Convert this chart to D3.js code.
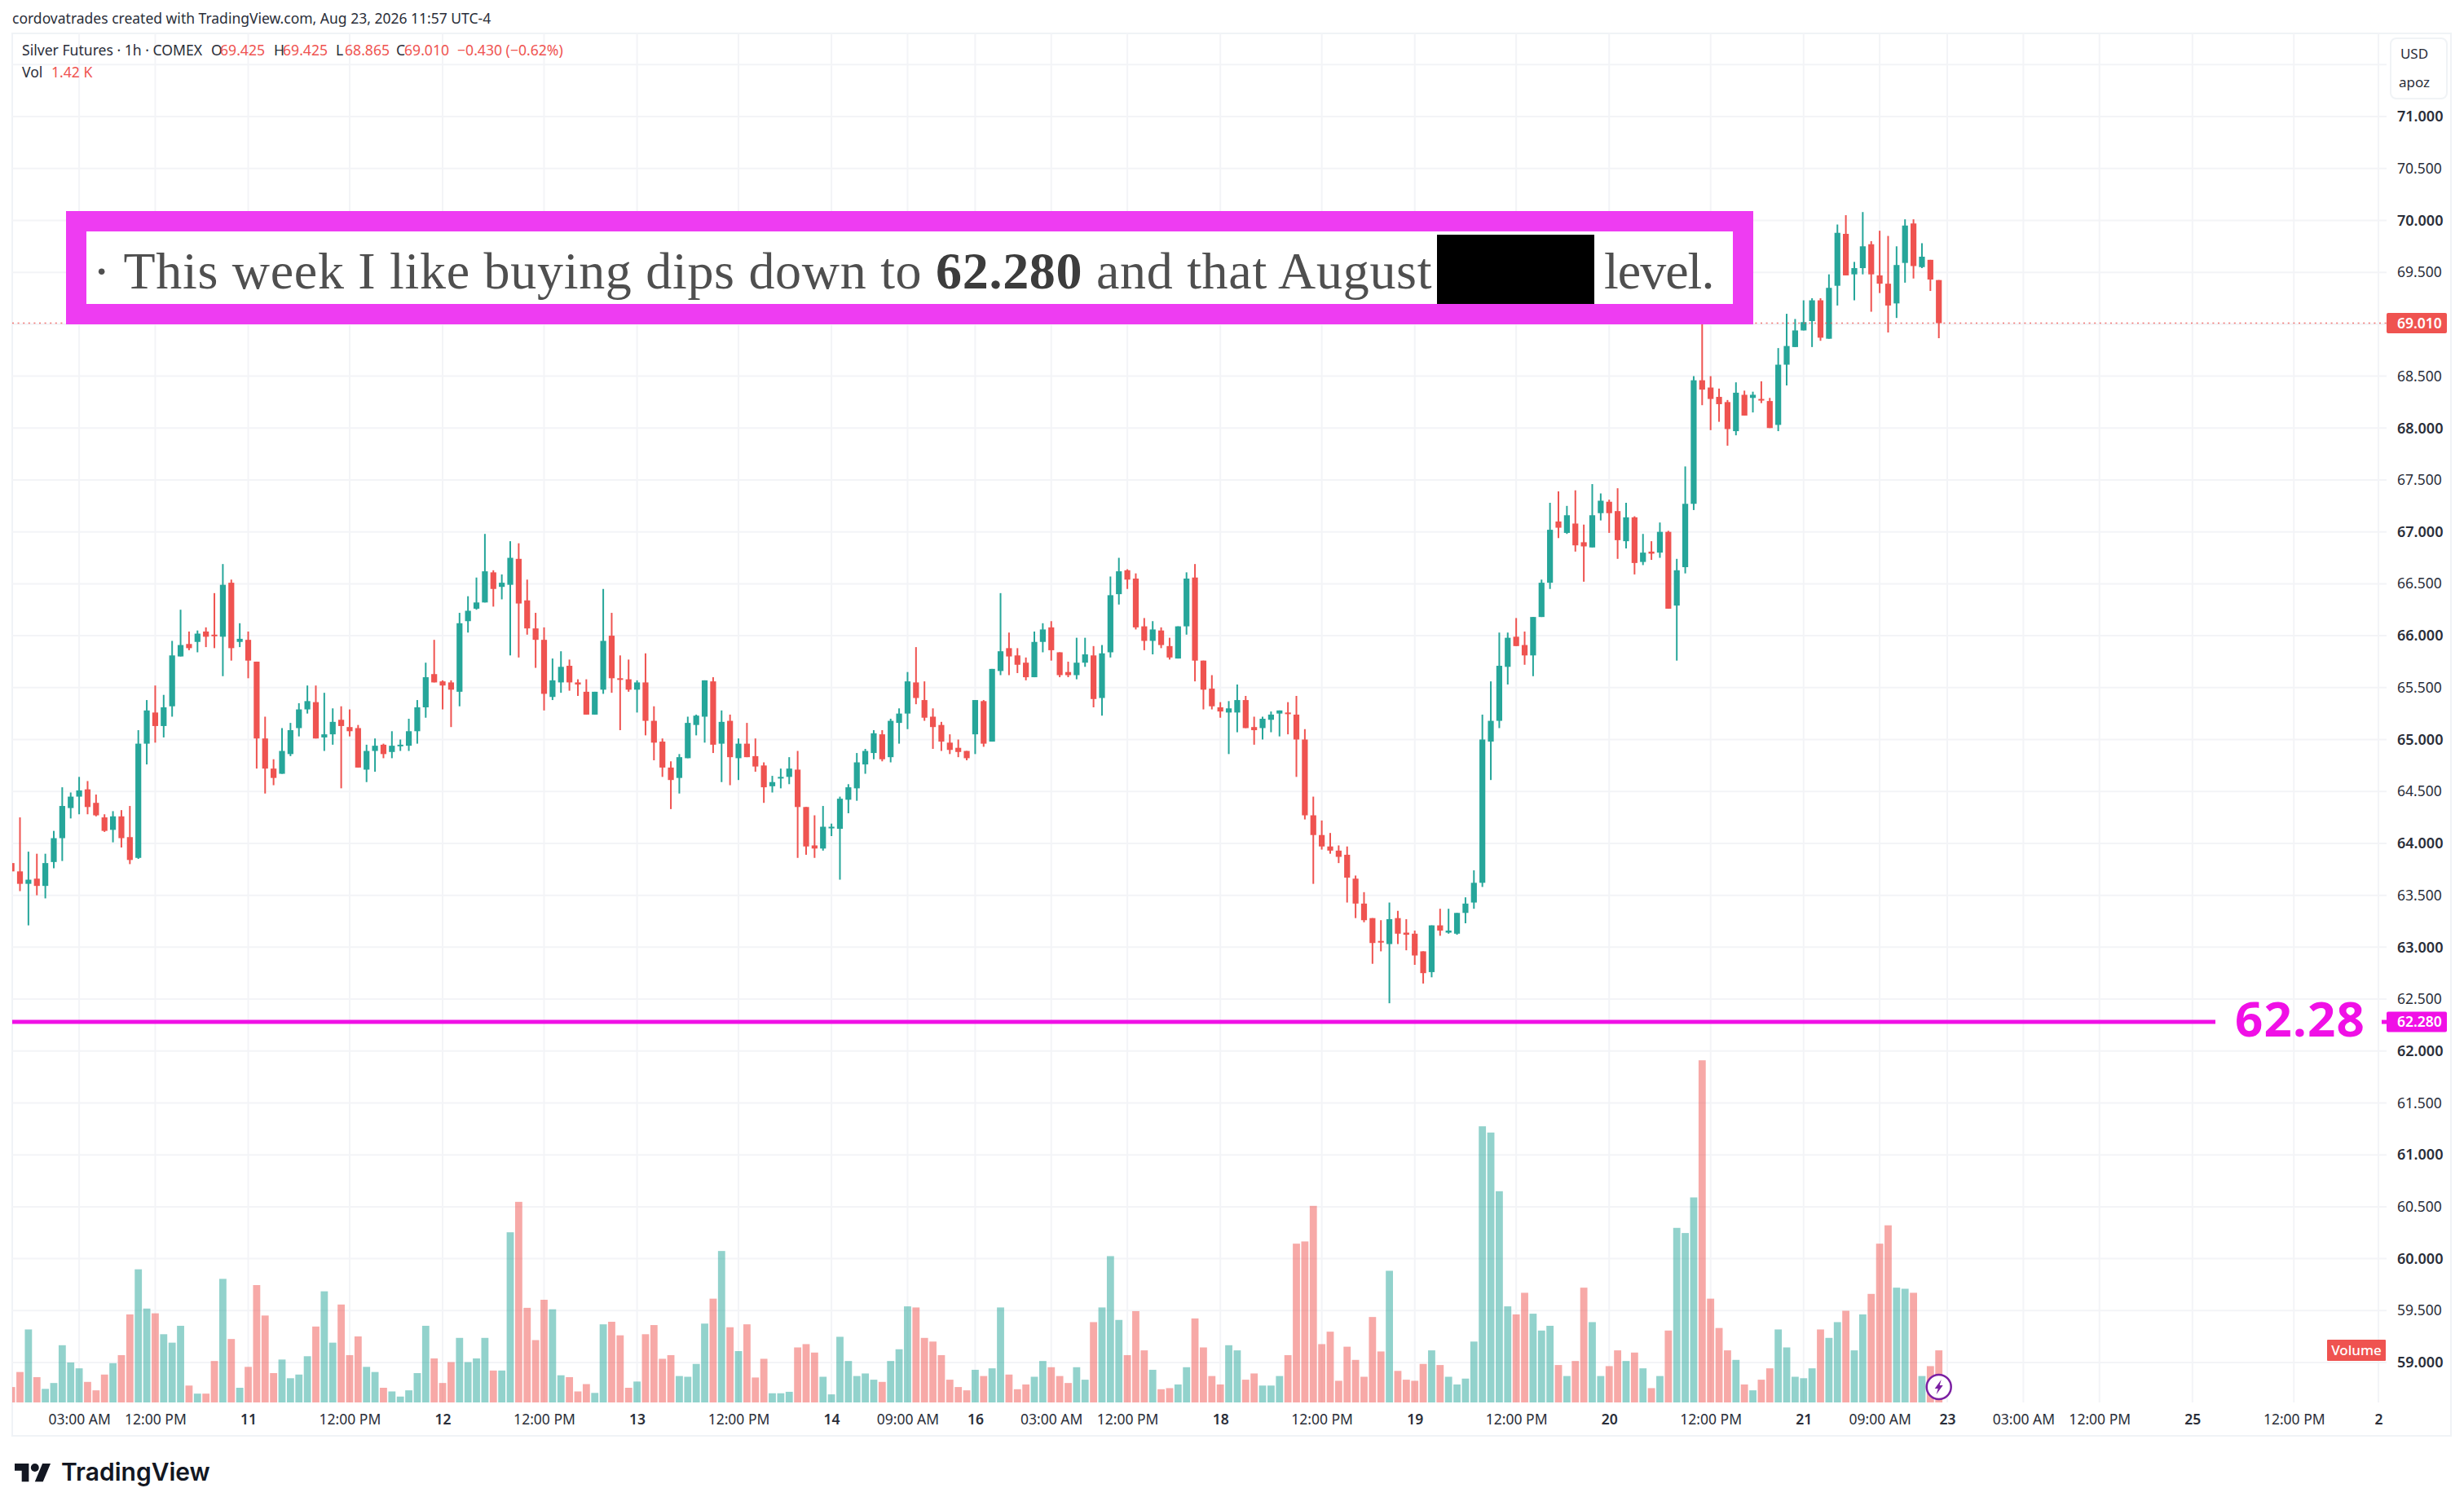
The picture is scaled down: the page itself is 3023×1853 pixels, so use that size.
<!DOCTYPE html>
<html>
<head>
<meta charset="utf-8">
<script src="https://cdn.jsdelivr.net/npm/d3@7"></script>
<style>
    html, body { margin: 0; padding: 0; background: #fff; }
    svg { display: block; }
    text { font-family: "Noto Sans", sans-serif; }
    .axis path, .axis line { display: none; }
    .axis text { fill: #2a2e39; font-size: 17.5px; font-family: "Noto Sans", sans-serif; }
</style>
</head>
<body>
<div id="chart"></div>
<script>
// 1h candles
const opens = [
    63.81, 63.73, 63.61, 63.66, 63.59, 63.82, 64.05, 64.34, 64.45, 64.52,
    64.39, 64.25, 64.13, 64.26, 64.06, 63.86, 64.96, 65.26, 65.13, 65.32,
    65.80, 65.92, 65.94, 66.04, 66.01, 65.99, 66.51, 65.94, 65.96, 65.75,
    65.01, 64.72, 64.67, 64.86, 65.11, 65.29, 65.36, 65.02, 65.05, 65.19,
    65.12, 65.11, 64.71, 64.89, 64.95, 64.88, 64.94, 64.94, 65.08, 65.31,
    65.63, 65.56, 65.55, 65.46, 66.14, 66.26, 66.32, 66.61, 66.47, 66.49,
    66.74, 66.34, 66.07, 65.96, 65.41, 65.55, 65.71, 65.55, 65.46, 65.24,
    65.48, 66.00, 65.59, 65.58, 65.48, 65.55, 65.18, 64.98, 64.73, 64.63,
    64.82, 65.14, 65.22, 65.56, 64.96, 65.18, 64.82, 64.96, 64.84, 64.75,
    64.55, 64.63, 64.64, 64.71, 64.35, 63.98, 63.95, 64.15, 64.14, 64.42,
    64.53, 64.76, 64.87, 65.05, 64.83, 65.16, 65.25, 65.55, 65.38, 65.22,
    65.14, 64.97, 64.92, 64.89, 65.05, 65.37, 64.98, 65.66, 65.88, 65.81,
    65.74, 65.60, 65.94, 66.08, 65.84, 65.65, 65.62, 65.74, 65.81, 65.40,
    65.84, 66.40, 66.63, 66.55, 66.09, 65.95, 66.05, 65.90, 65.78, 66.09,
    66.56, 65.76, 65.49, 65.31, 65.26, 65.26, 65.38, 65.12, 65.11, 65.19,
    65.25, 65.26, 65.24, 65.00, 64.27, 64.08, 63.97, 63.93, 63.89, 63.66,
    63.42, 63.28, 63.06, 63.03, 63.28, 63.14, 63.13, 62.96, 62.76, 63.21,
    63.14, 63.13, 63.33, 63.43, 63.62, 64.98, 65.18, 65.70, 65.99, 65.91,
    65.81, 66.18, 66.51, 67.10, 66.99, 67.08, 66.90, 66.85, 67.18, 67.29,
    67.20, 66.91, 67.14, 66.71, 66.81, 66.80, 67.00, 66.29, 66.66, 67.27,
    68.46, 68.39, 68.30, 68.25, 67.97, 68.32, 68.29, 68.28, 68.26, 68.03,
    68.61, 68.78, 68.94, 69.03, 69.23, 68.86, 69.37, 69.87, 69.48, 69.54,
    69.77, 69.47, 69.39, 69.20, 69.59, 69.97, 69.55, 69.62, 69.425
];
const highs = [
    63.81, 64.25, 63.92, 63.90, 63.90, 64.12, 64.54, 64.49, 64.64, 64.60,
    64.47, 64.28, 64.31, 64.32, 64.36, 65.09, 65.38, 65.52, 65.43, 65.95,
    66.25, 66.04, 66.05, 66.08, 66.41, 66.69, 66.54, 66.12, 66.04, 65.75,
    65.22, 64.81, 65.11, 65.16, 65.35, 65.52, 65.52, 65.45, 65.30, 65.32,
    65.29, 65.14, 64.95, 65.01, 64.96, 65.08, 65.00, 65.20, 65.38, 65.74,
    65.96, 65.57, 65.57, 66.22, 66.38, 66.56, 66.98, 66.63, 66.59, 66.91,
    66.89, 66.54, 66.22, 66.08, 65.78, 65.85, 65.77, 65.58, 65.58, 65.46,
    66.45, 66.22, 65.81, 65.77, 65.57, 65.83, 65.32, 65.01, 64.79, 64.86,
    65.22, 65.24, 65.57, 65.60, 65.28, 65.24, 65.01, 65.16, 65.01, 64.78,
    64.65, 64.72, 64.83, 64.89, 64.35, 64.27, 64.36, 64.19, 64.45, 64.57,
    64.87, 64.91, 65.09, 65.09, 65.20, 65.30, 65.65, 65.89, 65.56, 65.30,
    65.17, 65.05, 65.00, 64.89, 65.38, 65.38, 65.68, 66.41, 66.03, 65.88,
    65.79, 66.04, 66.12, 66.14, 65.84, 65.75, 65.98, 65.98, 65.90, 65.91,
    66.57, 66.75, 66.64, 66.60, 66.17, 66.14, 66.08, 65.98, 66.09, 66.61,
    66.69, 65.76, 65.62, 65.36, 65.37, 65.53, 65.42, 65.22, 65.22, 65.27,
    65.28, 65.36, 65.42, 65.10, 64.45, 64.22, 64.10, 63.98, 63.97, 63.69,
    63.53, 63.28, 63.26, 63.43, 63.35, 63.27, 63.16, 62.96, 63.21, 63.37,
    63.37, 63.33, 63.48, 63.74, 65.24, 65.56, 66.03, 66.03, 66.17, 66.04,
    66.18, 66.54, 67.28, 67.39, 67.25, 67.40, 67.07, 67.46, 67.37, 67.31,
    67.42, 67.28, 67.15, 66.98, 66.91, 67.09, 67.01, 66.74, 67.63, 68.50,
    69.10, 68.50, 68.38, 68.27, 68.44, 68.36, 68.35, 68.45, 68.29, 68.77,
    69.10, 69.05, 69.23, 69.25, 69.25, 69.48, 69.96, 70.05, 69.60, 70.08,
    69.80, 69.90, 69.85, 69.75, 70.01, 70.01, 69.78, 69.62, 69.425
];
const lows = [
    63.73, 63.54, 63.21, 63.50, 63.47, 63.76, 63.83, 64.24, 64.28, 64.28,
    64.26, 64.11, 64.01, 63.96, 63.80, 63.85, 64.76, 64.97, 65.02, 65.22,
    65.80, 65.86, 65.84, 65.89, 65.88, 65.61, 65.76, 65.89, 65.59, 64.72,
    64.48, 64.56, 64.67, 64.84, 65.03, 65.25, 65.01, 64.89, 64.95, 64.53,
    65.03, 64.73, 64.59, 64.69, 64.82, 64.82, 64.89, 64.89, 64.96, 65.21,
    65.55, 65.29, 65.12, 65.32, 66.03, 66.25, 66.32, 66.28, 66.35, 65.81,
    65.79, 66.01, 65.69, 65.28, 65.38, 65.45, 65.47, 65.42, 65.24, 65.24,
    65.44, 65.45, 65.09, 65.46, 65.26, 65.04, 64.80, 64.64, 64.33, 64.48,
    64.82, 65.04, 64.97, 64.87, 64.59, 64.56, 64.61, 64.83, 64.69, 64.39,
    64.49, 64.53, 64.57, 63.86, 63.89, 63.86, 63.93, 64.07, 63.65, 64.29,
    64.41, 64.67, 64.81, 64.79, 64.78, 64.96, 65.10, 65.34, 65.18, 64.91,
    64.89, 64.86, 64.83, 64.80, 64.86, 64.93, 64.98, 65.62, 65.62, 65.64,
    65.57, 65.60, 65.84, 65.76, 65.60, 65.60, 65.58, 65.70, 65.31, 65.23,
    65.79, 66.30, 66.45, 66.06, 65.86, 65.82, 65.88, 65.77, 65.78, 66.01,
    65.56, 65.29, 65.29, 65.21, 64.86, 65.07, 65.11, 64.95, 65.00, 65.07,
    65.03, 65.05, 64.64, 64.23, 63.61, 63.94, 63.90, 63.81, 63.43, 63.28,
    63.24, 62.84, 62.96, 62.46, 63.03, 62.97, 62.83, 62.65, 62.71, 63.11,
    63.13, 63.12, 63.23, 63.37, 63.58, 64.61, 65.11, 65.53, 65.90, 65.72,
    65.61, 66.18, 66.45, 66.94, 66.98, 66.81, 66.52, 66.85, 67.11, 66.99,
    66.74, 66.84, 66.59, 66.68, 66.73, 66.75, 66.26, 65.76, 66.60, 67.21,
    68.22, 67.98, 68.06, 67.83, 67.93, 68.12, 68.15, 68.24, 68.00, 67.97,
    68.41, 68.78, 68.94, 68.78, 68.84, 68.86, 69.18, 69.47, 69.23, 69.48,
    69.12, 69.30, 68.92, 69.06, 69.40, 69.44, 69.54, 69.32, 68.865
];
const closes = [
    63.73, 63.61, 63.65, 63.59, 63.81, 64.05, 64.36, 64.45, 64.51, 64.35,
    64.27, 64.12, 64.26, 64.05, 63.84, 64.96, 65.28, 65.13, 65.31, 65.81,
    65.91, 65.88, 66.02, 65.99, 66.00, 66.49, 65.88, 65.97, 65.76, 65.01,
    64.72, 64.63, 64.89, 65.09, 65.29, 65.37, 65.01, 65.05, 65.17, 65.13,
    65.08, 64.73, 64.89, 64.94, 64.86, 64.94, 64.95, 65.08, 65.31, 65.60,
    65.55, 65.52, 65.48, 66.12, 66.24, 66.32, 66.62, 66.45, 66.51, 66.75,
    66.31, 66.07, 65.96, 65.44, 65.57, 65.70, 65.55, 65.53, 65.24, 65.46,
    65.95, 65.59, 65.58, 65.48, 65.55, 65.18, 64.97, 64.73, 64.61, 64.83,
    65.16, 65.23, 65.57, 64.95, 65.17, 64.83, 64.96, 64.83, 64.74, 64.54,
    64.59, 64.64, 64.72, 64.35, 63.97, 63.95, 64.16, 64.16, 64.43, 64.54,
    64.78, 64.89, 65.06, 64.81, 65.18, 65.25, 65.56, 65.40, 65.21, 65.12,
    64.98, 64.90, 64.88, 64.82, 65.38, 64.96, 65.68, 65.85, 65.80, 65.72,
    65.60, 65.94, 66.06, 65.86, 65.62, 65.62, 65.74, 65.82, 65.39, 65.83,
    66.39, 66.62, 66.54, 66.08, 65.95, 66.06, 65.91, 65.79, 66.09, 66.55,
    65.76, 65.48, 65.32, 65.27, 65.30, 65.38, 65.11, 65.09, 65.20, 65.24,
    65.28, 65.25, 65.00, 64.27, 64.08, 63.97, 63.93, 63.87, 63.67, 63.42,
    63.26, 63.04, 63.05, 63.27, 63.13, 63.12, 62.92, 62.75, 63.21, 63.16,
    63.16, 63.33, 63.42, 63.62, 65.00, 65.18, 65.71, 65.98, 65.90, 65.81,
    66.18, 66.51, 67.02, 67.04, 67.16, 66.87, 66.86, 67.16, 67.30, 67.18,
    66.92, 67.14, 66.70, 66.80, 66.79, 67.00, 66.26, 66.63, 67.27, 68.46,
    68.37, 68.28, 68.23, 67.99, 68.34, 68.12, 68.32, 68.27, 68.00, 68.61,
    68.79, 68.94, 69.02, 69.23, 68.87, 69.35, 69.88, 69.47, 69.54, 69.75,
    69.48, 69.39, 69.18, 69.57, 69.95, 69.56, 69.65, 69.43, 69.01
];
// volume in thousands of contracts
const volumes = [
    0.42, 0.83, 1.99, 0.69, 0.37, 0.53, 1.56, 1.09, 0.93, 0.56,
    0.33, 0.76, 1.07, 1.29, 2.40, 3.63, 2.56, 2.43, 1.86, 1.63,
    2.09, 0.46, 0.24, 0.24, 1.13, 3.37, 1.73, 0.40, 0.97, 3.20,
    2.37, 0.80, 1.17, 0.66, 0.76, 1.26, 2.07, 3.03, 1.63, 2.67,
    1.29, 1.80, 0.97, 0.83, 0.40, 0.30, 0.16, 0.33, 0.80, 2.09,
    1.20, 0.53, 1.10, 1.76, 1.10, 1.20, 1.76, 0.87, 0.87, 4.64,
    5.47, 2.58, 1.70, 2.80, 2.54, 0.74, 0.69, 0.30, 0.50, 0.26,
    2.13, 2.20, 1.83, 0.40, 0.57, 1.86, 2.11, 1.19, 1.29, 0.72,
    0.70, 1.05, 2.15, 2.83, 4.13, 2.05, 1.40, 2.13, 0.68, 1.19,
    0.25, 0.25, 0.29, 1.50, 1.59, 1.36, 0.70, 0.22, 1.79, 1.13,
    0.72, 0.79, 0.62, 0.56, 1.13, 1.45, 2.62, 2.59, 1.76, 1.66,
    1.29, 0.62, 0.42, 0.33, 0.89, 0.72, 0.93, 2.59, 0.76, 0.36,
    0.49, 0.70, 1.13, 0.96, 0.72, 0.53, 0.96, 0.62, 2.19, 2.59,
    3.99, 2.25, 1.29, 2.49, 1.42, 0.89, 0.36, 0.39, 0.49, 0.96,
    2.29, 1.50, 0.72, 0.49, 1.56, 1.42, 0.62, 0.79, 0.46, 0.46,
    0.72, 1.29, 4.33, 4.39, 5.36, 1.59, 1.93, 0.59, 1.52, 1.16,
    0.70, 2.33, 1.39, 3.59, 0.86, 0.62, 0.59, 1.05, 1.42, 1.02,
    0.70, 0.49, 0.65, 1.66, 7.53, 7.36, 5.76, 2.62, 2.40, 2.99,
    2.42, 1.96, 2.09, 1.02, 0.72, 1.13, 3.13, 2.19, 0.72, 0.99,
    1.42, 1.13, 1.36, 0.93, 0.39, 0.72, 1.96, 4.76, 4.62, 5.59,
    9.33, 2.83, 2.03, 1.42, 1.16, 0.49, 0.33, 0.62, 0.93, 1.99,
    1.50, 0.70, 0.66, 0.93, 1.99, 1.76, 2.19, 2.50, 1.42, 2.40,
    2.96, 4.33, 4.83, 3.13, 3.10, 2.99, 0.72, 0.99, 1.42
];

const priceTicks = [71, 70.5, 70, 69.5, 68.5, 68, 67.5, 67, 66.5, 66, 65.5, 65, 64.5, 64, 63.5, 63, 62.5, 62, 61.5, 61, 60.5, 60, 59.5, 59];
const priceGrid = [71.5].concat(priceTicks, [69]);
// bar number of each time label (future ones run past the last candle)
const timeTickBars = [8, 17, 28, 40, 51, 63, 74, 86, 97, 106, 114, 123, 132, 143, 155, 166, 178, 189, 201, 212, 221, 229, 238, 247, 258, 270, 280];
const timeTickLabels = ['03:00 AM', '12:00 PM', '11', '12:00 PM', '12', '12:00 PM', '13', '12:00 PM', '14', '09:00 AM', '16', '03:00 AM', '12:00 PM', '18', '12:00 PM', '19', '12:00 PM', '20', '12:00 PM', '21', '09:00 AM', '23', '03:00 AM', '12:00 PM', '25', '12:00 PM', '2'];

const lastPrice = 69.01;
const levelPrice = 62.28;
const lastVolume = closes.length - 1;

const UP = '#26a69a';
const DOWN = '#ef5350';
const MAGENTA = '#f010e6';
const BOX_PINK = '#ee3cf2';

const W = 3023, H = 1853;
const plotLeft = 15, plotRight = 2928, plotTop = 41, plotBottom = 1721;

const x = d3.scaleLinear().domain([0, 228]).range([14.13, 2378.7]);
const y = d3.scaleLinear().domain([59, 71]).range([1672, 143]);
const yVol = d3.scaleLinear().domain([0, 10]).range([plotBottom, 1271]);

const svg = d3.select('#chart').append('svg').attr('width', W).attr('height', H);

svg.append('defs').append('clipPath').attr('id', 'plot-clip')
    .append('rect')
    .attr('x', plotLeft).attr('y', plotTop)
    .attr('width', plotRight - plotLeft).attr('height', plotBottom - plotTop);

// frame
svg.append('rect')
    .attr('x', plotLeft).attr('y', plotTop)
    .attr('width', 3007 - plotLeft).attr('height', 1762 - plotTop)
    .attr('fill', 'none').attr('stroke', '#f0f3f6').attr('stroke-width', 2);

// grid
svg.append('g').selectAll('line').data(priceGrid).join('line')
    .attr('x1', plotLeft).attr('x2', plotRight)
    .attr('y1', d => y(d)).attr('y2', d => y(d))
    .attr('stroke', '#f3f4f7').attr('stroke-width', 2);

svg.append('g').selectAll('line').data(timeTickBars).join('line')
    .attr('x1', d => x(d)).attr('x2', d => x(d))
    .attr('y1', plotTop).attr('y2', plotBottom)
    .attr('stroke', '#f3f4f7').attr('stroke-width', 2);

const plot = svg.append('g').attr('clip-path', 'url(#plot-clip)');

// volume
const isUp = i => closes[i] >= opens[i];
plot.append('g').selectAll('rect').data(volumes).join('rect')
    .attr('x', (d, i) => x(i) - 4.4)
    .attr('width', 8.8)
    .attr('y', d => yVol(d))
    .attr('height', d => yVol(0) - yVol(d))
    .attr('fill', (d, i) => isUp(i) ? UP : DOWN)
    .attr('fill-opacity', 0.5);

// last price dotted line
svg.append('line')
    .attr('x1', plotLeft).attr('x2', plotRight)
    .attr('y1', y(lastPrice)).attr('y2', y(lastPrice))
    .attr('stroke', DOWN).attr('stroke-width', 1.6).attr('stroke-dasharray', '2 4.6').attr('opacity', 0.8);

// candles
const candles = plot.append('g').selectAll('g').data(opens).join('g');
candles.append('line')
    .attr('x1', (d, i) => x(i)).attr('x2', (d, i) => x(i))
    .attr('y1', (d, i) => y(highs[i])).attr('y2', (d, i) => y(lows[i]))
    .attr('stroke', (d, i) => isUp(i) ? UP : DOWN).attr('stroke-width', 2);
candles.append('rect')
    .attr('x', (d, i) => x(i) - 3.6)
    .attr('width', 7.2)
    .attr('y', (d, i) => y(Math.max(opens[i], closes[i])))
    .attr('height', (d, i) => Math.max(2, Math.abs(y(opens[i]) - y(closes[i]))))
    .attr('fill', (d, i) => isUp(i) ? UP : DOWN);

// axes
const yAxis = d3.axisRight(y).tickValues(priceTicks).tickSize(0).tickPadding(0).tickFormat(d3.format('.3f'));
const yAxisG = svg.append('g').attr('class', 'axis').attr('transform', 'translate(2941,0)').call(yAxis);
yAxisG.selectAll('text')
    .attr('font-weight', d => Number.isInteger(d) ? 600 : 400)
    .style('font-size', d => Number.isInteger(d) ? '18px' : '17.5px');

const xAxis = d3.axisBottom(x).tickValues(timeTickBars).tickSize(0).tickPadding(0)
    .tickFormat((d, i) => timeTickLabels[i]);
const xAxisG = svg.append('g').attr('class', 'axis').attr('transform', 'translate(0,1736)').call(xAxis);
xAxisG.selectAll('text')
    .attr('font-weight', (d, i) => timeTickLabels[i].length < 3 ? 600 : 400);

// header and legend
svg.append('text').attr('x', 15).attr('y', 29).attr('font-size', 17.5).attr('fill', '#2a2e39')
    .text('cordovatrades created with TradingView.com, Aug 23, 2026 11:57 UTC-4');

const legendRows = [
    { px: 27, t: 'Silver Futures · 1h · COMEX', c: '#2a2e39' },
    { px: 259, t: 'O', c: '#2a2e39' }, { px: 270, t: '69.425', c: DOWN },
    { px: 336, t: 'H', c: '#2a2e39' }, { px: 347, t: '69.425', c: DOWN },
    { px: 412, t: 'L', c: '#2a2e39' }, { px: 423, t: '68.865', c: DOWN },
    { px: 486, t: 'C', c: '#2a2e39' }, { px: 496, t: '69.010', c: DOWN },
    { px: 561, t: '−0.430 (−0.62%)', c: DOWN }
];
svg.append('g').selectAll('text').data(legendRows).join('text')
    .attr('x', d => d.px).attr('y', 68).attr('font-size', 17.6).attr('fill', d => d.c)
    .text(d => d.t);
svg.append('text').attr('x', 27).attr('y', 95).attr('font-size', 17.6).attr('fill', '#2a2e39').text('Vol');
svg.append('text').attr('x', 63).attr('y', 95).attr('font-size', 17.6).attr('fill', DOWN)
    .text((volumes[lastVolume]).toFixed(2) + ' K');

// USD box
svg.append('rect').attr('x', 2933).attr('y', 47).attr('width', 69).attr('height', 74).attr('rx', 7)
    .attr('fill', '#fff').attr('stroke', '#f0f3f6').attr('stroke-width', 2);
svg.append('text').attr('x', 2962).attr('y', 72).attr('text-anchor', 'middle').attr('font-size', 17).attr('fill', '#2a2e39').text('USD');
svg.append('text').attr('x', 2962).attr('y', 107).attr('text-anchor', 'middle').attr('font-size', 17).attr('fill', '#2a2e39').text('apoz');

// last price tag
svg.append('rect').attr('x', 2928).attr('y', y(lastPrice) - 12.5).attr('width', 74).attr('height', 25).attr('rx', 2).attr('fill', DOWN);
svg.append('text').attr('x', 2941).attr('y', y(lastPrice) + 6).attr('font-size', 17.5).attr('font-weight', 600).attr('fill', '#fff')
    .text(d3.format('.3f')(lastPrice));

// note box pasted over the chart
svg.append('rect').attr('x', 81).attr('y', 259).attr('width', 2070).attr('height', 139).attr('fill', BOX_PINK);
svg.append('rect').attr('x', 106).attr('y', 284).attr('width', 2020).attr('height', 89).attr('fill', '#fff');
const note = svg.append('text').attr('x', 114).attr('y', 354)
    .attr('font-size', 64).attr('fill', '#4f4f4f').attr('letter-spacing', 0.7)
    .style('font-family', '"Liberation Serif", serif');
note.append('tspan').text('· This week I like buying dips down to ');
note.append('tspan').attr('font-weight', 700).attr('fill', '#3c3c3c').text('62.280');
note.append('tspan').text(' and that August');
svg.append('rect').attr('x', 1763).attr('y', 288).attr('width', 193).attr('height', 85).attr('fill', '#000');
svg.append('text').attr('x', 1968).attr('y', 354)
    .attr('font-size', 64).attr('fill', '#4f4f4f').attr('letter-spacing', -1)
    .style('font-family', '"Liberation Serif", serif')
    .text('level.');

// 62.28 level
svg.append('line').attr('x1', plotLeft).attr('x2', 2718).attr('y1', y(levelPrice)).attr('y2', y(levelPrice))
    .attr('stroke', MAGENTA).attr('stroke-width', 5);
svg.append('line').attr('x1', 2922).attr('x2', 2928).attr('y1', y(levelPrice)).attr('y2', y(levelPrice))
    .attr('stroke', MAGENTA).attr('stroke-width', 5);
svg.append('text').attr('x', 2742).attr('y', y(levelPrice) + 18).attr('font-size', 60).attr('font-weight', 700)
    .attr('letter-spacing', 1.2).attr('fill', MAGENTA).text(levelPrice.toFixed(2));
svg.append('rect').attr('x', 2928).attr('y', y(levelPrice) - 12.5).attr('width', 74).attr('height', 25).attr('rx', 2).attr('fill', MAGENTA);
svg.append('text').attr('x', 2941).attr('y', y(levelPrice) + 6).attr('font-size', 17.5).attr('font-weight', 600).attr('fill', '#fff')
    .text(d3.format('.3f')(levelPrice));

// Volume tag
svg.append('rect').attr('x', 2855).attr('y', 1644).attr('width', 72).attr('height', 26).attr('rx', 1).attr('fill', DOWN);
svg.append('text').attr('x', 2891).attr('y', 1663).attr('text-anchor', 'middle').attr('font-size', 17).attr('font-weight', 500).attr('fill', '#fff').text('Volume');

// flash icon on last bar
const flash = svg.append('g').attr('transform', `translate(${x(lastVolume)},1702)`);
flash.append('circle').attr('r', 15).attr('fill', '#fff').attr('stroke', '#7b1fa2').attr('stroke-width', 2.5);
flash.append('path').attr('d', 'M3,-9 L-5,2 L-1,2 L-3,9 L5,-2 L1,-2 Z').attr('fill', '#7b1fa2');

// TradingView logo
svg.append('g').attr('transform', 'translate(18,1791) scale(1.24)')
    .selectAll('path').data(['M14 22H7V11H0V4h14v18zM28 22h-8l7.5-18h8L28 22z']).join('path')
    .attr('d', d => d).attr('fill', '#131722');
svg.append('circle').attr('cx', 18 + 20 * 1.24).attr('cy', 1791 + 8 * 1.24).attr('r', 4 * 1.24).attr('fill', '#131722');
svg.append('text').attr('x', 75).attr('y', 1817).attr('font-size', 30).attr('font-weight', 600)
    .attr('fill', '#131722').style('font-family', 'Inter, sans-serif').text('TradingView');
</script>
</body>
</html>
